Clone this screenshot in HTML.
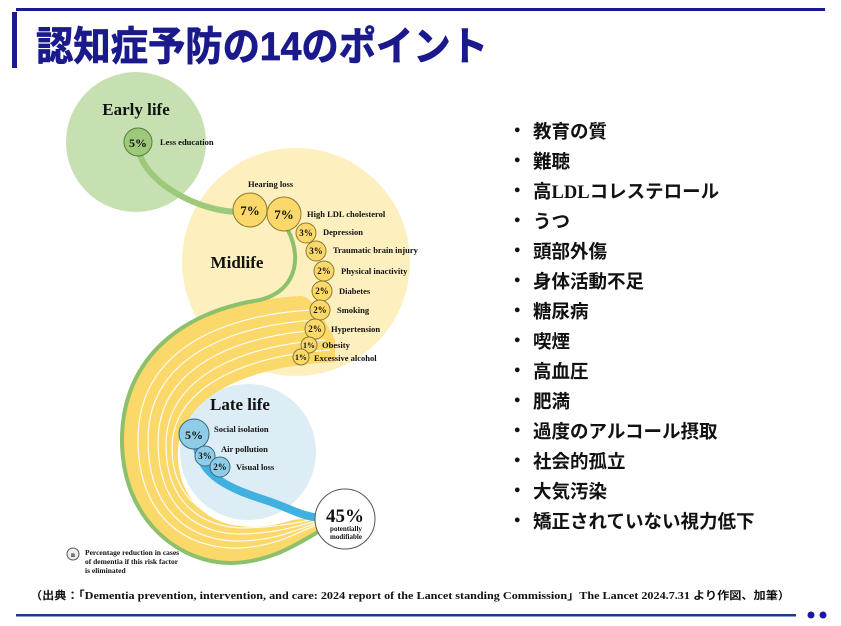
<!DOCTYPE html>
<html><head><meta charset="utf-8"><style>
html,body{margin:0;padding:0;background:#fff;}
body{width:841px;height:626px;overflow:hidden;position:relative;font-family:"Liberation Sans","Noto Sans CJK JP",sans-serif;}
svg{position:absolute;left:0;top:0;}
.l{font-family:"Liberation Serif","Noto Serif CJK SC",serif;font-weight:bold;fill:#111;}
.j{font-family:"Liberation Sans","Noto Sans CJK JP",sans-serif;font-weight:bold;fill:#111;}
</style></head><body>
<svg width="841" height="626" viewBox="0 0 841 626">
<rect x="16" y="8" width="809" height="3" fill="#1a1a8c"/>
<rect x="12" y="12" width="5" height="56" fill="#1a1a8c"/>
<text x="36" y="60" class="j" style="fill:#1a1a8c;font-size:40px;stroke:#1a1a8c;stroke-width:0.8" textLength="452" lengthAdjust="spacingAndGlyphs">認知症予防の14のポイント</text>

<circle cx="136" cy="142" r="70" fill="#c7e0b2"/>
<circle cx="296" cy="262" r="114" fill="#fdefbe"/>
<circle cx="248" cy="452" r="68" fill="#dcedf5"/>

<path d="M300,296 C230,300 122,330 122,440 C122,530 185,563 235,562 C275,560 300,540 320,530 L320,512 C290,520 270,530 240,526 C200,522 176,490 178,450 C182,400 240,366 335,362 L335,340 C320,310 310,296 300,296 Z" fill="#fbd86a"/>
<g fill="none" stroke="#fff" stroke-width="1.2" opacity="0.9">
<path d="M310,310 C230,315 138,345 138,440 C138,520 190,550 240,548 C280,546 300,530 320,524"/>
<path d="M315,320 C235,325 148,355 148,440 C148,515 195,542 240,541 C280,540 300,528 320,522"/>
<path d="M320,330 C240,335 158,365 158,442 C158,510 200,535 242,534 C280,533 300,525 320,520"/>
<path d="M325,340 C245,345 166,375 166,445 C166,505 205,528 244,528 C280,527 300,522 320,518"/>
<path d="M330,350 C250,355 172,385 172,448 C172,500 210,522 246,522 C280,521 300,519 320,516"/>
</g>
<path d="M196,440 C198,478 235,490 265,500 C290,508 300,516 320,518" fill="none" stroke="#3fb0e0" stroke-width="8"/>
<path d="M140,155 C150,185 200,212 240,212" fill="none" stroke="#9cc97a" stroke-width="6"/>
<path d="M285,225 C302,252 300,290 260,300 C180,312 122,360 122,440 C122,522 182,564 232,563 C272,562 300,542 318,532" fill="none" stroke="#8dc06a" stroke-width="4"/>

<circle cx="345" cy="519" r="30" fill="#fff" stroke="#555" stroke-width="1"/>
<text x="345" y="522" class="l" font-size="19" text-anchor="middle">45%</text>
<text x="346" y="531" class="l" font-size="7" text-anchor="middle">potentially</text>
<text x="346" y="539" class="l" font-size="7" text-anchor="middle">modifiable</text>

<text x="136" y="115" class="l" font-size="17" text-anchor="middle">Early life</text>
<circle cx="138" cy="142" r="14" fill="#9cc97a" stroke="#5a7a3a"/>
<text x="138" y="147" class="l" font-size="12" text-anchor="middle">5%</text>
<text x="160" y="145" class="l" font-size="8.5">Less education</text>

<text x="237" y="268" class="l" font-size="17" text-anchor="middle">Midlife</text>
<text x="248" y="187" class="l" font-size="8.5">Hearing loss</text>
<g fill="#fbd86a" stroke="#8a7a30">
<circle cx="250" cy="210" r="17"/><circle cx="284" cy="214" r="17"/>
<circle cx="306" cy="233" r="10"/><circle cx="316" cy="251" r="10"/>
<circle cx="324" cy="271" r="10"/><circle cx="322" cy="291" r="10"/>
<circle cx="320" cy="310" r="10"/><circle cx="315" cy="329" r="10"/>
<circle cx="309" cy="345" r="8"/><circle cx="301" cy="357" r="8"/>
</g>
<g class="l" font-size="13" text-anchor="middle"><text x="250" y="215">7%</text><text x="284" y="219">7%</text></g>
<g class="l" font-size="9" text-anchor="middle">
<text x="306" y="236">3%</text><text x="316" y="254">3%</text><text x="324" y="274">2%</text>
<text x="322" y="294">2%</text><text x="320" y="313">2%</text><text x="315" y="332">2%</text>
<text x="309" y="348" font-size="8">1%</text><text x="301" y="360" font-size="8">1%</text>
</g>
<g class="l" font-size="8.5">
<text x="307" y="217">High LDL cholesterol</text>
<text x="323" y="235">Depression</text>
<text x="333" y="253">Traumatic brain injury</text>
<text x="341" y="274">Physical inactivity</text>
<text x="339" y="294">Diabetes</text>
<text x="337" y="313">Smoking</text>
<text x="331" y="332">Hypertension</text>
<text x="322" y="348">Obesity</text>
<text x="314" y="361">Excessive alcohol</text>
</g>

<text x="240" y="410" class="l" font-size="17" text-anchor="middle">Late life</text>
<g fill="#8fcde6" stroke="#3a6a80">
<circle cx="194" cy="434" r="15"/><circle cx="205" cy="456" r="10"/><circle cx="220" cy="467" r="10"/>
</g>
<g class="l" text-anchor="middle">
<text x="194" y="439" font-size="12">5%</text><text x="205" y="459" font-size="9">3%</text><text x="220" y="470" font-size="9">2%</text>
</g>
<g class="l" font-size="8.5">
<text x="214" y="432">Social isolation</text>
<text x="221" y="452">Air pollution</text>
<text x="236" y="470">Visual loss</text>
</g>

<circle cx="73" cy="554" r="6" fill="#eee" stroke="#555"/>
<text x="73" y="557" class="l" font-size="7" text-anchor="middle">n</text>
<g class="l" font-size="7.5">
<text x="85" y="555">Percentage reduction in cases</text>
<text x="85" y="564">of dementia if this risk factor</text>
<text x="85" y="573">is eliminated</text>
</g>

<g class="j" font-size="18.5">
<text x="508" y="137">・</text><text x="533" y="138">教育の質</text>
<text x="508" y="167">・</text><text x="533" y="168">難聴</text>
<text x="508" y="197">・</text><text x="533" y="198">高<tspan class="l" style="font-family:'Liberation Serif',serif">LDL</tspan>コレステロール</text>
<text x="508" y="227">・</text><text x="533" y="228">うつ</text>
<text x="508" y="257">・</text><text x="533" y="258">頭部外傷</text>
<text x="508" y="287">・</text><text x="533" y="288">身体活動不足</text>
<text x="508" y="317">・</text><text x="533" y="318">糖尿病</text>
<text x="508" y="347">・</text><text x="533" y="348">喫煙</text>
<text x="508" y="377">・</text><text x="533" y="378">高血圧</text>
<text x="508" y="407">・</text><text x="533" y="408">肥満</text>
<text x="508" y="437">・</text><text x="533" y="438">過度のアルコール摂取</text>
<text x="508" y="467">・</text><text x="533" y="468">社会的孤立</text>
<text x="508" y="497">・</text><text x="533" y="498">大気汚染</text>
<text x="508" y="527">・</text><text x="533" y="528">矯正されていない視力低下</text>
</g>

<text x="30" y="599" class="l" font-size="11" textLength="760" lengthAdjust="spacingAndGlyphs"><tspan class="j">（出典：「</tspan>Dementia prevention, intervention, and care: 2024 report of the Lancet standing Commission<tspan class="j">」</tspan>The Lancet 2024.7.31 <tspan class="j">より作図、加筆）</tspan></text>
<rect x="16" y="614" width="780" height="2.5" fill="#1a3a8c"/>
<circle cx="811" cy="615" r="3.5" fill="#1a1aa0"/><circle cx="823" cy="615" r="3.5" fill="#1a1aa0"/>
</svg>
</body></html>
